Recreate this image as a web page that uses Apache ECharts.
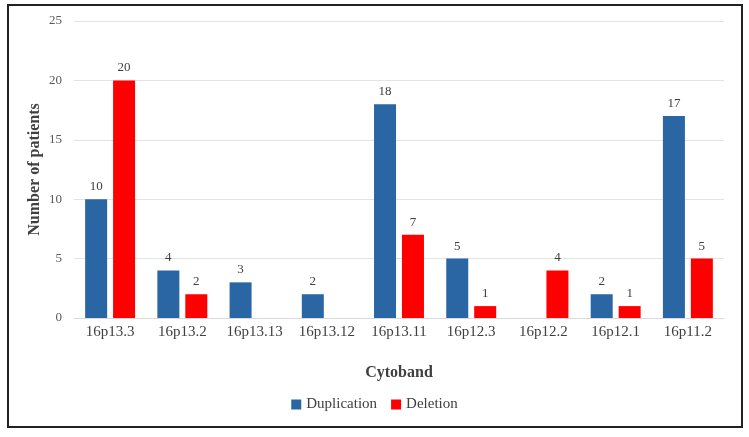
<!DOCTYPE html>
<html><head><meta charset="utf-8">
<script src="https://cdn.jsdelivr.net/npm/echarts@6/dist/echarts.min.js"></script>
<style>html,body{margin:0;padding:0;background:#fff}
#frame{position:absolute;left:7px;top:4px;width:732px;height:420px;border:2px solid #222;}
#c{position:absolute;left:0;top:0;width:749px;height:437px}</style>
</head><body><div id="frame"></div><div id="c"></div>
<script>
const categories = ['16p13.3','16p13.2','16p13.13','16p13.12','16p13.11','16p12.3','16p12.2','16p12.1','16p11.2'];
const duplication = [10,4,3,2,18,5,null,2,17];
const deletion = [20,2,null,null,7,1,4,1,5];
const yTicks = [0,5,10,15,20,25];
const font = 'Liberation Serif';
const chart = echarts.init(document.getElementById('c'));
const lbl = {show:true, position:'top', distance:6, color:'#404040', fontFamily:font, fontSize:13};
chart.setOption({
  animation:false,
  grid:{left:74, right:25, top:21, bottom:119},
  legend:{bottom:20, left:'center', itemWidth:10, itemHeight:10, itemGap:14, icon:'rect',
    textStyle:{fontFamily:font, fontSize:15, color:'#404040'}, data:['Duplication','Deletion']},
  xAxis:{type:'category', data:categories, name:'Cytoband', nameLocation:'middle', nameGap:47, nameMoveOverlap:false,
    nameTextStyle:{fontFamily:font, fontSize:16, fontWeight:'bold', color:'#404040'},
    axisLine:{lineStyle:{color:'#d9d9d9'}}, axisTick:{show:false},
    axisLabel:{fontFamily:font, fontSize:15, color:'#404040', margin:7, interval:0}},
  yAxis:{type:'value', min:yTicks[0], max:yTicks[yTicks.length-1], interval:5, name:'Number of patients',
    nameLocation:'middle', nameGap:31, nameMoveOverlap:false,
    nameTextStyle:{fontFamily:font, fontSize:16, fontWeight:'bold', color:'#404040'},
    axisLine:{show:false}, axisTick:{show:false},
    axisLabel:{fontFamily:font, fontSize:13, color:'#595959', margin:12},
    splitLine:{lineStyle:{color:'#e3e3e3'}}},
  series:[
    {name:'Duplication', type:'bar', data:duplication, barWidth:22, barGap:'27%', itemStyle:{color:'#2966a3'}, label:lbl},
    {name:'Deletion', type:'bar', data:deletion, barWidth:22, itemStyle:{color:'#ff0000'}, label:lbl}
  ]
});
</script></body></html>
